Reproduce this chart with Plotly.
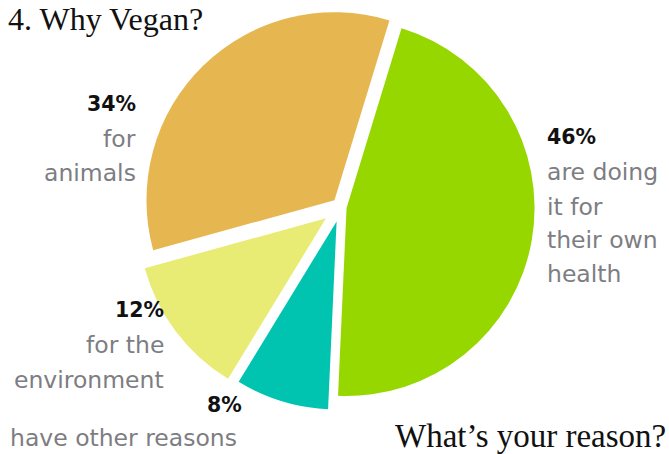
import plotly.graph_objects as go

labels = ["are doing it for their own health", "have other reasons", "for the environment", "for animals"]
values = [46, 8, 12, 34]
colors = ["#96D700", "#00C4B0", "#E8EC74", "#E6B650"]
pulls = [0.03, 0.08, 0.10, 0.05]

title_text = "4. Why Vegan?"
footer_text = "What\u2019s your reason?"

W, H = 669, 454

def fx(px):
    return px / W

def fy(py):
    return 1 - py / H

# pie geometry in pixels
CX, CY, R = 341, 207, 188
half = R * (1 + max(pulls))

fig = go.Figure()
fig.add_trace(go.Pie(
    labels=labels, values=values, sort=False, direction="clockwise",
    rotation=17, pull=pulls, textinfo="none", hoverinfo="none",
    marker=dict(colors=colors, line=dict(width=0)),
    domain=dict(x=[fx(CX - half), fx(CX + half)], y=[fy(CY + half), fy(CY - half)]),
    showlegend=False,
))

SANS = "DejaVu Sans, Open Sans, sans-serif"
SERIF = "Liberation Serif, DejaVu Serif, serif"
GRAY = "#7d7d82"
anns = []

def add(text, x, y, anchor, color=GRAY, bold=False, size=23.5, family=SANS):
    t = f"<b>{text}</b>" if bold else text
    anns.append(dict(text=t, x=fx(x), y=fy(y), xref="paper", yref="paper",
                     xanchor=anchor, yanchor="middle", showarrow=False,
                     font=dict(family=family, size=size, color=color)))

PS = 20.5
# animals block
add("34%", 138, 104, "right", "#111111", True, PS)
add("for", 138, 139, "right")
add("animals", 138, 173, "right")
# health block
add("46%", 545, 137, "left", "#111111", True, PS)
add("are doing", 545, 172, "left")
add("it for", 545, 207, "left")
add("their own", 545, 240, "left")
add("health", 545, 274, "left")
# environment block
add("12%", 166, 310, "right", "#111111", True, PS)
add("for the", 166, 345, "right")
add("environment", 166, 380, "right")
# other
add("8%", 244, 405, "right", "#111111", True, PS)
add("have other reasons", 8, 438, "left")
# titles
add(title_text, 6, 19, "left", "#111111", False, 32, SERIF)
add(footer_text, 668, 436, "right", "#111111", False, 33, SERIF)

fig.update_layout(
    width=W, height=H, margin=dict(l=0, r=0, t=0, b=0),
    paper_bgcolor="white", plot_bgcolor="white",
    annotations=anns,
)
fig.write_html("out.html")
